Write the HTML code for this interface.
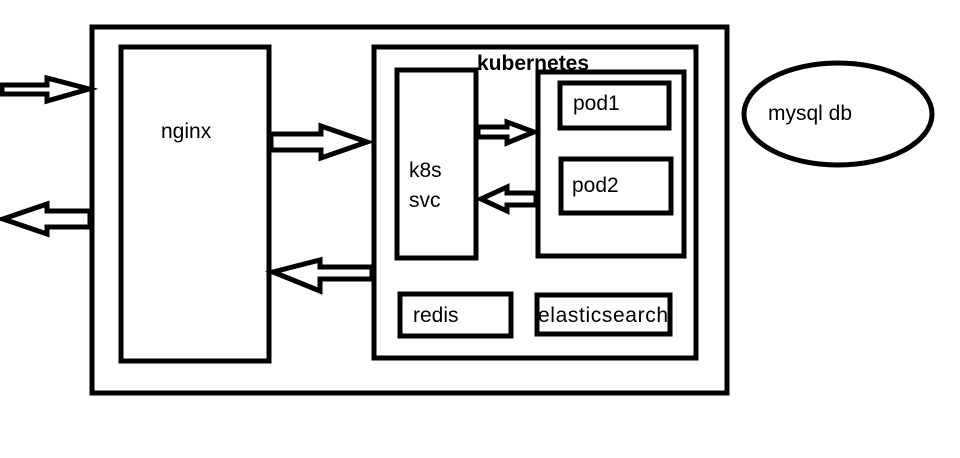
<!DOCTYPE html>
<html><head><style>body{margin:0;background:#fff}svg{display:block}text{font-family:"Liberation Sans",sans-serif;font-size:21px;fill:#000}</style></head><body>
<svg width="960" height="458" viewBox="0 0 960 458">
<g fill="#fff" stroke="#000" stroke-width="5">
<rect x="92" y="27" width="635" height="366"/>
<rect x="121" y="47" width="148" height="314"/>
<rect x="374" y="47" width="322" height="311"/>
<rect x="397" y="70" width="79" height="188"/>
<rect x="538" y="72" width="146" height="184"/>
<rect x="560" y="83" width="109" height="45"/>
<rect x="561" y="159" width="110" height="54"/>
<rect x="400" y="294" width="111" height="42"/>
<rect x="537" y="295" width="133" height="39"/>
<ellipse cx="838" cy="114" rx="94" ry="51"/>
<polygon points="2,85 47,85 47,78 89,89 47,101 47,94 2,94"/>
<polygon points="90,211 47,211 47,204 3,219 47,234 47,227 90,227"/>
<polygon points="271,134 321,134 321,126 367,142 321,158 321,150 271,150"/>
<polygon points="372,267 320,267 320,260 273,272 320,291 320,279 372,279"/>
<polygon points="478,127 507,127 507,122 534,132 507,143 507,137 478,137"/>
<polygon points="536,193 507,193 507,187 481,199 507,211 507,205 536,205"/>
</g>
<text x="161" y="138">nginx</text>
<text x="477" y="70" font-weight="bold" font-size="20">kubernetes</text>
<text x="573" y="110">pod1</text>
<text x="572" y="192">pod2</text>
<text x="409" y="177">k8s</text>
<text x="409" y="207">svc</text>
<text x="413" y="322">redis</text>
<text x="538" y="322" textLength="130">elasticsearch</text>
<text x="768" y="120">mysql db</text>
</svg>
</body></html>
